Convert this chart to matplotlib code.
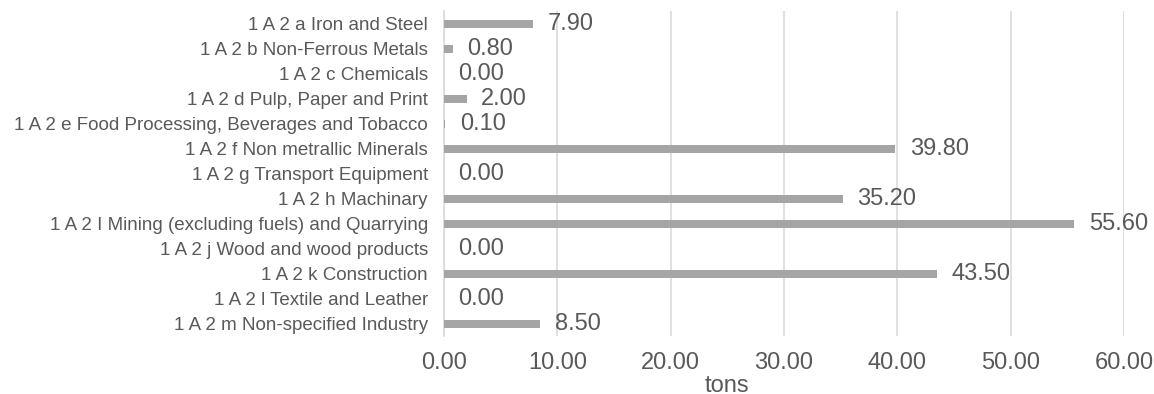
import matplotlib.pyplot as plt
import numpy as np

plt.rcParams["font.family"] = ["Liberation Sans", "DejaVu Sans"]

categories = [
    "1 A 2 a Iron and Steel",
    "1 A 2 b Non-Ferrous Metals",
    "1 A 2 c Chemicals",
    "1 A 2 d Pulp, Paper and Print",
    "1 A 2 e Food Processing, Beverages and Tobacco",
    "1 A 2 f Non metrallic Minerals",
    "1 A 2 g Transport Equipment",
    "1 A 2 h Machinary",
    "1 A 2 I Mining (excluding fuels) and Quarrying",
    "1 A 2 j Wood and wood products",
    "1 A 2 k Construction",
    "1 A 2 l Textile and Leather",
    "1 A 2 m Non-specified Industry",
]
values = [7.90, 0.80, 0.00, 2.00, 0.10, 39.80, 0.00, 35.20, 55.60, 0.00, 43.50, 0.00, 8.50]
xticks = [0, 10, 20, 30, 40, 50, 60]

text_col = "#595959"
bar_col = "#A5A5A5"
grid_col = "#D9D9D9"

fig = plt.figure(figsize=(11.54, 3.94), dpi=100)
ax = fig.add_axes([0.3847, 0.146, 0.974 - 0.3847, 0.971 - 0.146])

y = np.arange(len(categories))
ax.barh(y, values, height=0.32, color=bar_col, zorder=3)
ax.set_ylim(len(categories) - 0.5, -0.5)
ax.set_xlim(0, 60)

ax.set_yticks(y)
ax.set_yticklabels(categories, fontsize=13.5, color=text_col)
ax.set_xticks(xticks)
ax.set_xticklabels([f"{t:.2f}" for t in xticks], fontsize=17, color=text_col)
ax.tick_params(axis="both", length=0)
ax.tick_params(axis="y", pad=11.5)
ax.tick_params(axis="x", pad=11.5)

for v, yi in zip(values, y):
    ax.annotate(f"{v:.2f}", (v, yi), xytext=(10.5, 0), textcoords="offset points",
                ha="left", va="center", fontsize=17, color=text_col)

ax.grid(axis="x", color=grid_col, linewidth=1.2, zorder=0)
for side in ["top", "right", "bottom"]:
    ax.spines[side].set_visible(False)
ax.spines["left"].set_color(grid_col)
ax.spines["left"].set_linewidth(1.2)

ax.set_xlabel("tons", fontsize=17, color=text_col, va="baseline")
ax.xaxis.set_label_coords(0.416, -0.171)

fig.savefig("out.png", dpi=100)
